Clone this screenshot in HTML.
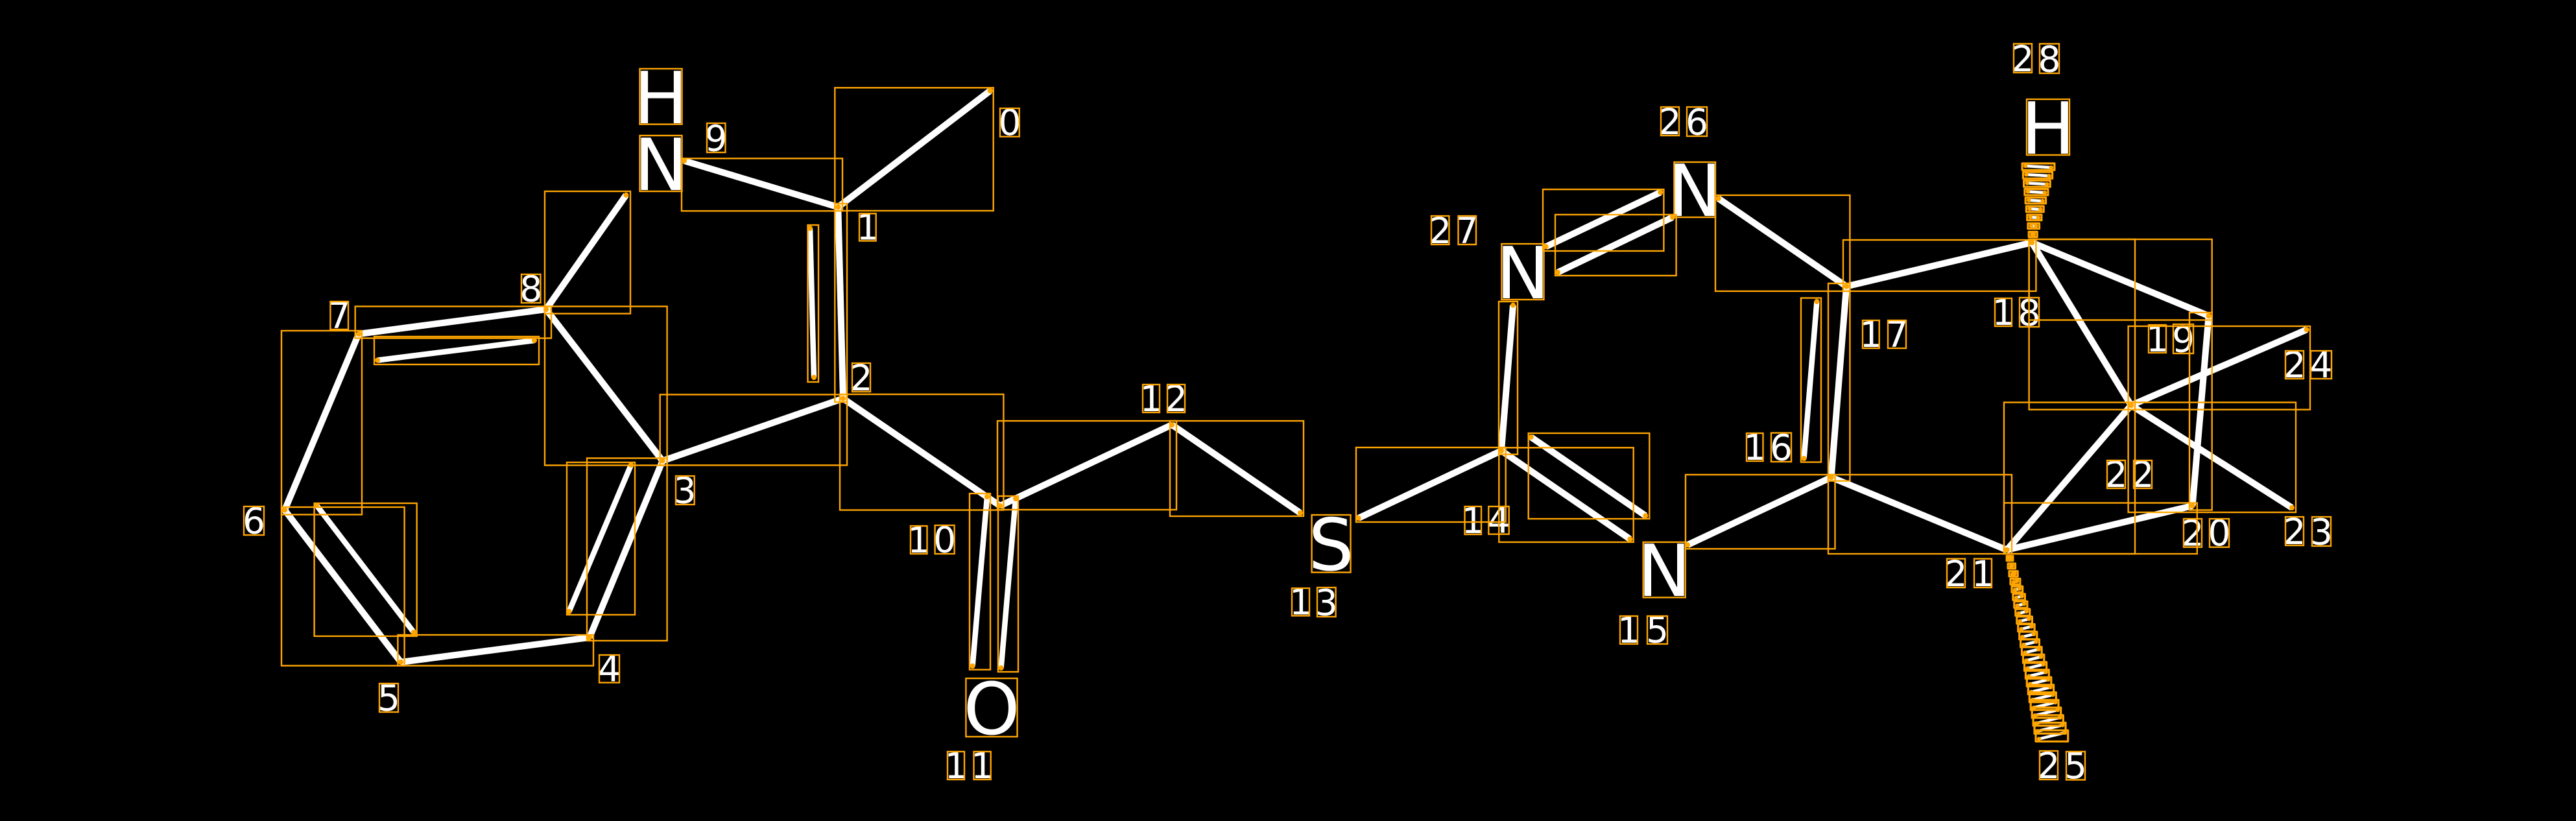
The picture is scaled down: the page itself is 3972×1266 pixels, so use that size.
<!DOCTYPE html>
<html><head><meta charset="utf-8"><style>
html,body{margin:0;padding:0;background:#000;width:3972px;height:1266px;overflow:hidden}
svg{display:block}
text{font-family:"DejaVu Sans","Liberation Sans",sans-serif;fill:#fff;text-anchor:middle}
.d text{font-size:55px}
.b text{font-size:111px}
</style></head><body>
<svg xmlns="http://www.w3.org/2000/svg" width="3972" height="1266" viewBox="0 0 3972 1266">
<defs><marker id="m" markerUnits="userSpaceOnUse" markerWidth="10" markerHeight="10" refX="5" refY="5" overflow="visible"><circle cx="5" cy="5" r="4" fill="#ffa500"/></marker>
<marker id="s" markerUnits="userSpaceOnUse" markerWidth="8" markerHeight="8" refX="4" refY="4" overflow="visible"><circle cx="4" cy="4" r="3.2" fill="#ffa500"/></marker></defs>
<rect width="3972" height="1266" fill="#000"/>
<g class="b"><text x="1019" y="190">H</text><text x="1019" y="293">N</text><text x="1529" y="1132">O</text><text x="2052.5" y="879">S</text><text x="2348" y="460">N</text><text x="2613" y="333">N</text><text x="2566" y="919">N</text><text x="3158" y="237">H</text></g>
<g class="d"><text x="1557" y="208">0</text><text x="1338" y="369.5">1</text><text x="1328" y="602">2</text><text x="1056" y="775.5">3</text><text x="939.5" y="1050.5">4</text><text x="599.5" y="1095.5">5</text><text x="391.5" y="822.5">6</text><text x="523" y="506">7</text><text x="818.7" y="464.5">8</text><text x="1104" y="232.5">9</text>
<text x="1416.7" y="852">1</text><text x="1456.6" y="851.5">0</text><text x="1474" y="1200">1</text><text x="1514.6" y="1200">1</text><text x="1775" y="634">1</text><text x="1813.5" y="634">2</text><text x="2005.5" y="947.5">1</text><text x="2045.3" y="948.5">3</text><text x="2271" y="822">1</text><text x="2311" y="821.7">4</text><text x="2511.5" y="991">1</text><text x="2555.5" y="990.5">5</text><text x="2705.7" y="709">1</text><text x="2746.5" y="709.5">6</text><text x="2884.8" y="535">1</text><text x="2925" y="535">7</text><text x="3089" y="501">1</text><text x="3129" y="501.5">8</text><text x="3326.5" y="542">1</text><text x="3366.5" y="542.5">9</text><text x="3381" y="841.7">2</text><text x="3422" y="841">0</text><text x="3016" y="904">2</text><text x="3057.5" y="904">1</text><text x="3263" y="751">2</text><text x="3304" y="751">2</text><text x="3538" y="839">2</text><text x="3579.5" y="839.5">3</text><text x="3538" y="582">2</text><text x="3579" y="582">4</text><text x="3159" y="1200">2</text><text x="3200.5" y="1200">5</text><text x="2575" y="207">2</text><text x="2616.5" y="207.5">6</text><text x="2220.7" y="375">2</text><text x="2262" y="375">7</text><text x="3119" y="110">2</text><text x="3160" y="110.5">8</text></g>
<path fill="none" stroke="#fff" stroke-width="10" marker-start="url(#m)" marker-mid="url(#m)" marker-end="url(#m)" d="M1526.7 140L1292.3 319.3M1292.3 319.3L1300 614.5M1055 248L1292.3 319.3M1300 614.5L1021.6 710.6M1021.6 710.6L909 983M909 983L618 1021M618 1021L439 786.5M439 786.5L553 515M553 515L842 477M842 477L1021.6 710.6M842 477L965.4 300.7M1300 614.5L1542 780M1542 780L1807 655M1807 655L2005 791M2094.6 799L2315 695M2315 695L2333 470.6M2315 695L2513.3 831.3M2602 840.3L2823.7 736M2823.7 736L2847 441.6M2649.6 306L2847 441.6M2847 441.6L3133 374M3133 374L3405.6 487M3405.6 487L3380.6 780M3380.6 780L3094.4 848M3094.4 848L2823.7 736M3133 374L3286 625M3286 625L3094.4 848M3286 625L3556.6 508.4M3286 625L3534 783M2383.7 380.4L2560.3 296.5M2402 420L2579 335M2360.7 674L2537.3 795.3"/>
<path fill="none" stroke="#fff" stroke-width="8.5" marker-start="url(#m)" marker-mid="url(#m)" marker-end="url(#m)" d="M1249 352L1255 582M973 717L877.4 943M488 779L638 975M582 555.5L824 525M1522 766L1499.6 1027M1566 769L1543.6 1030M2781.6 707L2801.4 465"/>
<path fill="none" stroke="#fff" stroke-width="4.5" marker-start="url(#s)" marker-mid="url(#s)" marker-end="url(#s)" d="M3133.2 361.5l3 0M3131.9 348.36l7.6 .28M3130.7 335.12l12.2 .56M3129.4 321.98l16.8 .84M3128.2 308.74l21.4 1.12M3126.9 295.6l26 1.4M3125.6 282.36l30.6 1.68M3124.4 269.22l35.2 1.96M3123.1 255.98l39.8 2.24
M3098 861l2 0M3100.9 873.1l1.7 -.4M3102.9 885.2l3.5 -.8M3104.9 897.3l5.2 -1.3M3106.8 909.4l7 -1.7M3108.8 921.6l8.7 -2.1M3110.7 933.7l10.4 -2.5M3112.6 945.8l12.2 -2.9M3114.6 957.9l13.9 -3.4M3116.6 970l15.7 -3.8M3118.5 982.1l17.4 -4.2M3120.4 994.2l19.1 -4.6M3122.4 1006.3l20.9 -5M3124.4 1018.4l22.6 -5.5M3126.3 1030.5l24.4 -5.9M3128.3 1042.7l26.1 -6.3M3130.2 1054.8l27.8 -6.7M3132.1 1066.9l29.6 -7.1M3134.1 1079l31.3 -7.6M3136.1 1091.1l33.1 -8M3138 1103.2l34.8 -8.4M3139.9 1115.3l36.5 -8.8M3141.9 1127.4l38.3 -9.2M3143.9 1139.5l40 -9.7"/>
<g fill="none" stroke="#ffa500" stroke-width="2.4">
<rect x="1287.3" y="135.3" width="244.4" height="189.7"/><rect x="1287.3" y="314" width="18.7" height="306"/><rect x="1051" y="244.3" width="248" height="81"/><rect x="1245.5" y="347" width="16.5" height="242"/><rect x="1017.7" y="608.4" width="288.3" height="109"/><rect x="905" y="706.5" width="123.6" height="281.5"/><rect x="874" y="713" width="105" height="235"/><rect x="613.4" y="979" width="301.6" height="47.5"/><rect x="434" y="782" width="189.6" height="244.5"/><rect x="484.6" y="776" width="158.1" height="205"/><rect x="434" y="510" width="124" height="283.5"/><rect x="547.7" y="472.5" width="302.3" height="49"/><rect x="577" y="519" width="254" height="43"/><rect x="840" y="472.5" width="188.6" height="245"/><rect x="840" y="295" width="132" height="188.6"/><rect x="1295" y="608" width="252.4" height="178.5"/><rect x="1538" y="649" width="276" height="137"/><rect x="1804" y="649" width="206" height="147"/><rect x="1495" y="761" width="32" height="271.6"/><rect x="1539" y="765" width="31" height="271"/><rect x="2091" y="690" width="230.7" height="115"/><rect x="2311" y="465" width="29" height="235.7"/><rect x="2311.3" y="690.3" width="207.4" height="145.7"/><rect x="2356.7" y="668" width="186.6" height="132"/><rect x="2379" y="292" width="186.4" height="95"/><rect x="2398" y="331" width="186.6" height="94"/><rect x="2645" y="301" width="207.4" height="148"/><rect x="2842" y="370" width="297.4" height="79"/><rect x="2819" y="437" width="33.4" height="304.6"/><rect x="2777" y="459.5" width="31" height="253.1"/><rect x="2599" y="732" width="230.5" height="114.3"/><rect x="2819" y="732" width="283" height="122"/><rect x="3128.6" y="369" width="282.1" height="124.5"/><rect x="3376" y="482" width="34.7" height="304.5"/><rect x="3090" y="775.5" width="297.8" height="78.5"/><rect x="3128.6" y="369" width="163.4" height="262.6"/><rect x="3090" y="620.5" width="202" height="233.5"/><rect x="3281.6" y="503" width="280.4" height="128.6"/><rect x="3281.6" y="620.5" width="258.4" height="169.5"/>
<rect x="986.5" y="106" width="65" height="85.6"/><rect x="986.5" y="209" width="65" height="86"/><rect x="1489.4" y="1046" width="79.1" height="90"/><rect x="2022.6" y="794" width="59.9" height="88.6"/><rect x="2315.4" y="376" width="65.1" height="86"/><rect x="2581.4" y="250" width="63.6" height="85"/><rect x="2533.7" y="836" width="65" height="85.3"/><rect x="3125" y="153" width="66" height="86"/>
<rect x="1542" y="167" width="29.7" height="43.7"/><rect x="1325" y="329.3" width="25.7" height="42.2"/><rect x="1314" y="560" width="28" height="44"/><rect x="1042" y="734" width="28.7" height="44"/><rect x="924" y="1010" width="31" height="42.6"/><rect x="585" y="1054" width="29" height="44"/><rect x="376" y="781" width="31" height="44"/><rect x="509.4" y="465" width="27.6" height="43"/><rect x="804" y="423" width="29.4" height="44"/><rect x="1090" y="190" width="28.5" height="45"/>
<rect x="1404" y="811" width="25.5" height="43"/><rect x="1441.6" y="810" width="30" height="44"/><rect x="1461" y="1159" width="26" height="43"/><rect x="1501.5" y="1159" width="26.2" height="43"/><rect x="1762" y="593" width="26" height="43"/><rect x="1800" y="593" width="27" height="43"/><rect x="1992" y="907" width="27" height="42.5"/><rect x="2031" y="906" width="28.6" height="45"/><rect x="2258.5" y="781" width="25.5" height="43"/><rect x="2295.3" y="781" width="31.4" height="42.7"/><rect x="2498" y="950" width="27" height="43"/><rect x="2540" y="950" width="31" height="43"/><rect x="2693" y="668" width="25.5" height="43"/><rect x="2731" y="667.5" width="31" height="44.5"/><rect x="2872" y="494" width="25.7" height="43"/><rect x="2911" y="494" width="28" height="43"/><rect x="3076" y="460" width="26" height="43"/><rect x="3114" y="459" width="30" height="45"/><rect x="3313" y="501" width="27" height="43"/><rect x="3351" y="500" width="31" height="45"/><rect x="3367" y="800" width="28" height="43.7"/><rect x="3407" y="800" width="30" height="43.7"/><rect x="3002" y="861.6" width="28" height="44.4"/><rect x="3044" y="861.6" width="27" height="44.4"/><rect x="3249" y="710" width="28" height="43"/><rect x="3290" y="710" width="28" height="43"/><rect x="3524" y="797" width="28" height="44"/><rect x="3565" y="797" width="29" height="45"/><rect x="3524" y="541" width="28" height="43"/><rect x="3563" y="541" width="32" height="43"/><rect x="3145" y="1158" width="28" height="44"/><rect x="3186" y="1159" width="29" height="43.5"/><rect x="2561" y="165" width="28" height="44"/><rect x="2601" y="165" width="31" height="45"/><rect x="2207" y="333" width="27.4" height="44"/><rect x="2248.5" y="333" width="27.5" height="44"/><rect x="3105" y="67.5" width="28" height="44.5"/><rect x="3145" y="67.5" width="30" height="45.5"/>
</g>
<g fill="none" stroke="#ffa500" stroke-width="3.2" stroke-linejoin="round">
<rect x="3128.2" y="357.5" width="13" height="8"/><rect x="3126.9" y="344.4" width="17.6" height="8.3"/><rect x="3125.7" y="331.1" width="22.2" height="8.6"/><rect x="3124.4" y="318" width="26.8" height="8.8"/><rect x="3123.2" y="304.7" width="31.4" height="9.1"/><rect x="3121.9" y="291.6" width="36" height="9.4"/><rect x="3120.6" y="278.4" width="40.6" height="9.7"/><rect x="3119.4" y="265.2" width="45.2" height="10"/><rect x="3118.1" y="252" width="49.8" height="10.2"/>
<rect x="3094.15" y="857.3" width="9.7" height="7.4"/><rect x="3096.1" y="869" width="11.4" height="7.8"/><rect x="3098" y="880.7" width="13.2" height="8.2"/><rect x="3100" y="892.4" width="14.9" height="8.7"/><rect x="3102" y="904.1" width="16.7" height="9.1"/><rect x="3103.9" y="915.8" width="18.4" height="9.5"/><rect x="3105.8" y="927.4" width="20.1" height="9.9"/><rect x="3107.8" y="939.1" width="21.9" height="10.3"/><rect x="3109.8" y="950.8" width="23.6" height="10.8"/><rect x="3111.7" y="962.5" width="25.4" height="11.2"/><rect x="3113.7" y="974.2" width="27.1" height="11.6"/><rect x="3115.6" y="985.9" width="28.8" height="12"/><rect x="3117.5" y="997.6" width="30.6" height="12.4"/><rect x="3119.5" y="1009.3" width="32.3" height="12.9"/><rect x="3121.5" y="1021" width="34.1" height="13.3"/><rect x="3123.4" y="1032.7" width="35.8" height="13.7"/><rect x="3125.3" y="1044.3" width="37.5" height="14.1"/><rect x="3127.3" y="1056" width="39.3" height="14.5"/><rect x="3129.3" y="1067.7" width="41" height="15"/><rect x="3131.2" y="1079.4" width="42.8" height="15.4"/><rect x="3133.2" y="1091.1" width="44.5" height="15.8"/><rect x="3135.1" y="1102.8" width="46.2" height="16.2"/><rect x="3137" y="1114.5" width="48" height="16.6"/><rect x="3139" y="1126.2" width="49.7" height="17.1"/>
</g>
</svg>
</body></html>
